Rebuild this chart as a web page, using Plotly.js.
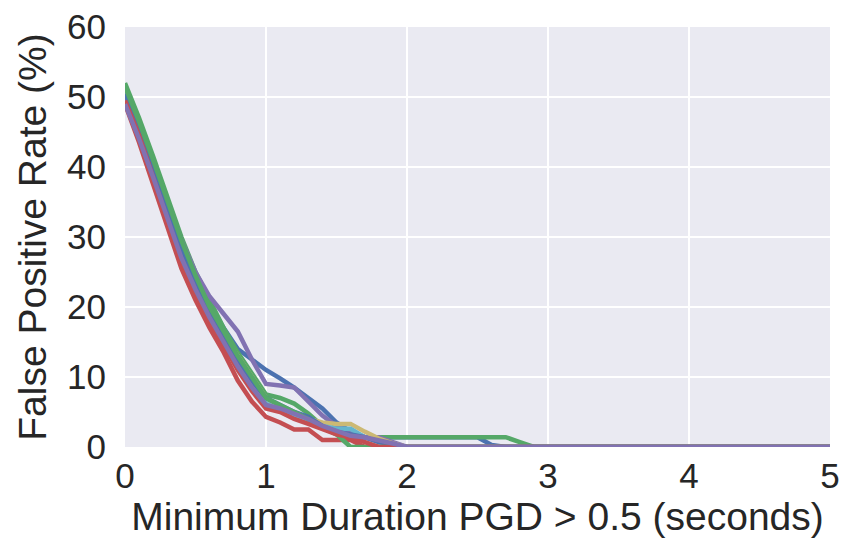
<!DOCTYPE html>
<html>
<head>
<meta charset="utf-8">
<script src="https://cdn.plot.ly/plotly-3.0.1.min.js"></script>
<style>html,body{margin:0;padding:0;background:#fff;}#chart{width:844px;height:555px;}</style>
</head>
<body>
<div id="chart"></div>
<script>
// Minimum duration (seconds)
const durations = [0,0.1,0.2,0.3,0.4,0.5,0.6,0.7,0.8,0.9,1.0,1.1,1.2,1.3,1.4,1.5,1.6,1.7,1.8,1.9,2.0,2.1,2.2,2.3,2.4,2.5,2.6,2.7,2.8,2.9,3.0,5.0];

// False positive rate (%) for each run
const blue1   = [51.5,46.5,41,35,29.5,24.5,20.5,17,14,12.5,11,9.8,8.5,7,5.5,3.5,2.2,1.4,1.4,1.4,1.4,1.4,1.4,1.4,1.4,1.4,0.3,0,0,0,0,0];
const green1  = [52,47,41.5,35.5,30,25,21,17,13.5,10.5,7.5,7,6.2,4.8,3,2,1.4,1.4,1.4,1.4,1.4,1.4,1.4,1.4,1.4,1.4,1.4,1.4,0.7,0,0,0];
const red1    = [49,43.5,37.5,31.5,25.5,21,17,13.5,9.5,6.5,4.3,3.5,2.5,2.5,1,1,1,0,0,0,0,0,0,0,0,0,0,0,0,0,0,0];
const purple1 = [50,45.5,40.5,35,29.5,25,21.5,19,16.5,12.5,9,8.8,8.5,6.5,4.5,3,2,1.4,1.4,0.7,0,0,0,0,0,0,0,0,0,0,0,0];
const yellow1 = [50.5,45.5,40,34,28.5,23.5,19.5,16,13,10,7,5.5,4.5,4,3.5,3.3,3.3,2.2,1.2,0.5,0,0,0,0,0,0,0,0,0,0,0,0];
const cyan1   = [50,45,39.5,33.5,28,23,19,15.5,12,9,6.2,5.3,4.5,3.8,3,2.6,2.6,1.4,0.7,0,0,0,0,0,0,0,0,0,0,0,0,0];
const blue2   = [50.5,45.5,40,34,28.5,23.5,19.5,16,12.5,9.5,7,6,5,4.3,3,2.2,1.8,1.4,0.7,0.3,0,0,0,0,0,0,0,0,0,0,0,0];
const green2  = [51.5,46.5,41,35,29.5,24.5,20,16.5,13,10,7,6,5,4,2.8,1.8,0,0,0,0,0,0,0,0,0,0,0,0,0,0,0,0];
const red2    = [49.5,44.5,38.5,32.5,26.5,22,18,14.5,11,8,5.5,5,4,3.3,2.5,1.8,1.4,0.7,0,0,0,0,0,0,0,0,0,0,0,0,0,0];
const purple2 = [49,44,38.5,32.5,27,22.5,18.5,15,11.5,8.5,6,5.5,4.8,4,3,2.3,1.6,1.4,1.0,0.5,0,0,0,0,0,0,0,0,0,0,0,0];

const seriesList = [blue1, green1, red1, purple1, yellow1, cyan1, blue2, green2, red2, purple2];
const palette = ['#4C72B0','#55A868','#C44E52','#8172B2','#CCB974','#64B5CD'];

const traces = seriesList.map((ys, i) => ({
  x: durations, y: ys, type: 'scatter', mode: 'lines',
  line: {color: palette[i % palette.length], width: 4.5},
  showlegend: false, hoverinfo: 'skip'
}));

const fontFam = '"Liberation Sans", Arial, Helvetica, sans-serif';
const txtColor = '#262626';
const layout = {
  width: 844, height: 555,
  margin: {l: 125, r: 14, t: 27, b: 108},
  paper_bgcolor: '#ffffff',
  plot_bgcolor: '#EAEAF2',
  font: {family: fontFam, color: txtColor, size: 35},
  xaxis: {
    range: [0, 5], tickvals: [0,1,2,3,4,5], ticktext: ['0','1','2','3','4','5'],
    showgrid: true, gridcolor: '#ffffff', gridwidth: 2, zeroline: false, showline: false,
    ticks: '', ticklabelstandoff: 5, automargin: false,
    tickfont: {size: 35, family: fontFam, color: txtColor},
    title: {text: 'Minimum Duration PGD > 0.5 (seconds)', font: {size: 39, family: fontFam, color: txtColor}, standoff: 8}
  },
  yaxis: {
    range: [0, 60], tickvals: [0,10,20,30,40,50,60], ticktext: ['0','10','20','30','40','50','60'],
    showgrid: true, gridcolor: '#ffffff', gridwidth: 2, zeroline: false, showline: false,
    ticks: '', ticklabelstandoff: 18, automargin: false,
    tickfont: {size: 35, family: fontFam, color: txtColor},
    title: {text: 'False Positive Rate (%)', font: {size: 39, family: fontFam, color: txtColor}, standoff: 8}
  }
};

Plotly.newPlot('chart', traces, layout, {staticPlot: true, displayModeBar: false});
</script>
</body>
</html>
